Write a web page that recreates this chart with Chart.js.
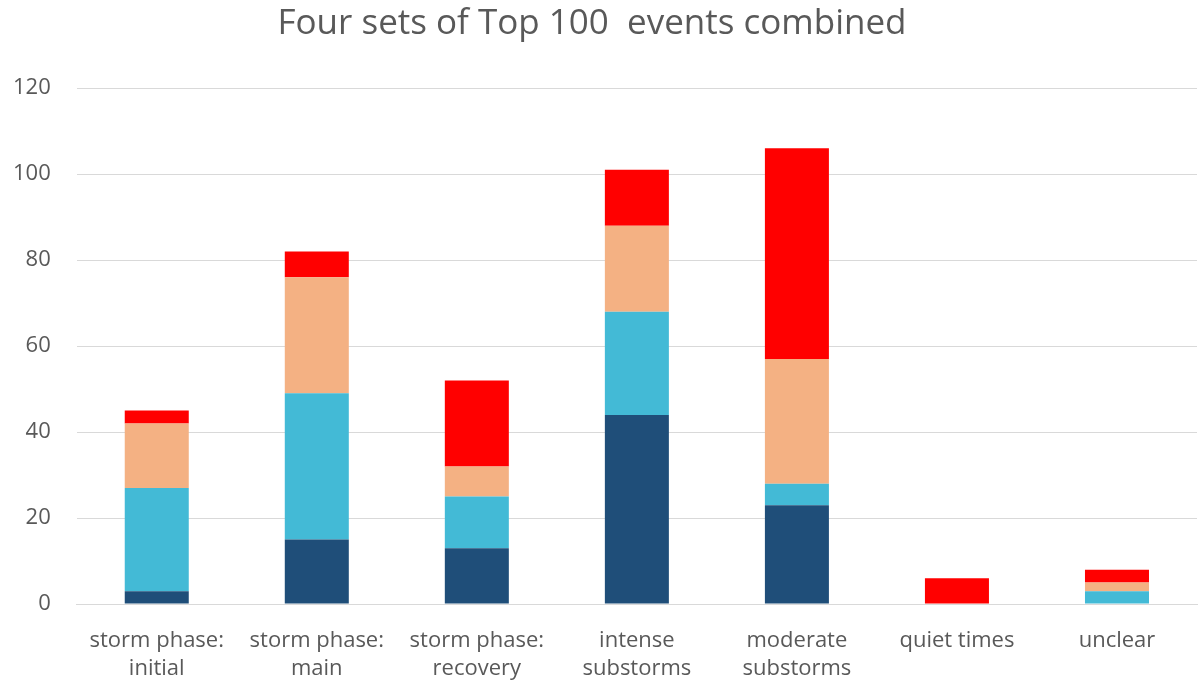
<!DOCTYPE html>
<html>
<head>
<meta charset="utf-8">
<script src="https://cdn.jsdelivr.net/npm/chart.js@4/dist/chart.umd.min.js"></script>
<style>
  html, body { margin: 0; padding: 0; background: #ffffff; }
  #wrap { width: 1201px; height: 682px; }
</style>
</head>
<body>
<div id="wrap"><canvas id="events" width="1201" height="682"></canvas></div>
<script>
// categories (two-line labels as in the original)
const categories = [
  ["storm phase:", "initial"],
  ["storm phase:", "main"],
  ["storm phase:", "recovery"],
  ["intense", "substorms"],
  ["moderate", "substorms"],
  ["quiet times"],
  ["unclear"]
];

// four stacked sets, bottom to top
const setOne   = [3, 15, 13, 44, 23, 0, 0];
const setTwo   = [24, 34, 12, 24, 5, 0, 3];
const setThree = [15, 27, 7, 20, 29, 0, 2];
const setFour  = [3, 6, 20, 13, 49, 6, 3];

const yTicks = [0, 20, 40, 60, 80, 100, 120];

const textColor = "#595959";
const fontFamily = "'Open Sans', 'Noto Sans', sans-serif";

function makeSet(label, data, color) {
  return {
    label: label,
    data: data,
    backgroundColor: color,
    borderWidth: 0,
    barPercentage: 0.4,
    categoryPercentage: 1.0
  };
}

new Chart(document.getElementById("events"), {
  type: "bar",
  data: {
    labels: categories,
    datasets: [
      makeSet("Set 1", setOne, "#1F4E79"),
      makeSet("Set 2", setTwo, "#43BAD6"),
      makeSet("Set 3", setThree, "#F4B183"),
      makeSet("Set 4", setFour, "#FF0000")
    ]
  },
  options: {
    responsive: false,
    animation: false,
    // the axes reserve their tick padding twice, so pull the edges back a bit
    layout: { padding: { left: -13, right: 4, top: 0, bottom: -24 } },
    plugins: {
      legend: { display: false },
      tooltip: { enabled: false },
      title: {
        display: true,
        text: "Four sets of Top 100  events combined",
        color: textColor,
        font: { family: fontFamily, size: 35, weight: "normal", lineHeight: 1.2 },
        padding: { top: 3, bottom: 43 }
      }
    },
    scales: {
      x: {
        stacked: true,
        grid: { display: false, drawTicks: false },
        border: { display: true, color: "#D9D9D9", width: 1 },
        ticks: {
          color: textColor,
          font: { family: fontFamily, size: 22, lineHeight: 1.27 },
          padding: 23,
          maxRotation: 0,
          autoSkip: false
        }
      },
      y: {
        stacked: true,
        min: 0,
        max: 120,
        afterBuildTicks: function (axis) {
          axis.ticks = yTicks.map(v => ({ value: v }));
        },
        grid: { color: "#D9D9D9", drawTicks: false },
        border: { display: false },
        ticks: {
          color: textColor,
          font: { family: fontFamily, size: 22 },
          padding: 26
        }
      }
    }
  }
});
</script>
</body>
</html>
